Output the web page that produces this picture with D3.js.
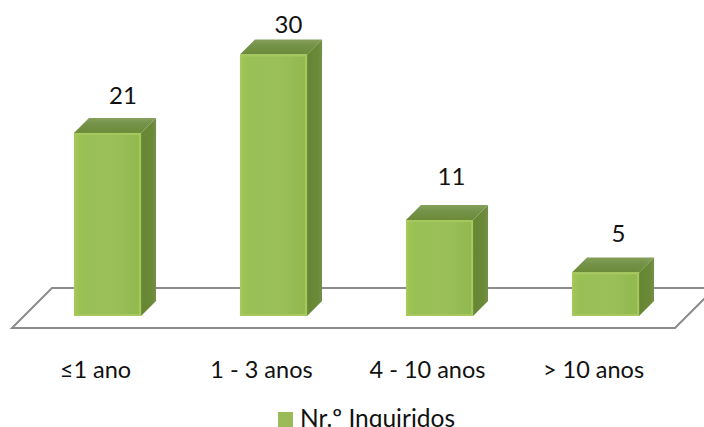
<!DOCTYPE html>
<html>
<head>
<meta charset="utf-8">
<script src="https://cdn.jsdelivr.net/npm/d3@7"></script>
<style>
  html, body { margin: 0; padding: 0; background: #fff; overflow: hidden; }
  svg { display: block; }
  text { font-family: Lato, "Open Sans", sans-serif; fill: #111; }
</style>
</head>
<body>
<svg id="chart" width="704" height="427"></svg>
<script>
const categories = ["≤1 ano", "1 - 3 anos", "4 - 10 anos", "> 10 anos"];
const respondents = [21, 30, 11, 5];
const seriesName = "Nr.º Inquiridos";

// Hand placement of the value labels relative to each bar's top
const labelShiftX = [15.5, 15, 12, 13];
const labelLift = [29, 22, 35, 30];

const svg = d3.select("#chart");
const depth = 15;

const x = d3.scaleBand().domain(categories).range([24.5, 688.5]).paddingInner(0.596).paddingOuter(0.298);
const y = d3.scaleLinear().domain([0, 30]).range([316, 54.5]);

// Shading for the bar faces
const defs = svg.append("defs");
const front = defs.append("linearGradient").attr("id", "faceFront");
[[0, "#a4c652"], [0.12, "#98c055"], [0.6, "#9abf5a"], [1, "#90b94e"]].forEach(([o, c]) =>
  front.append("stop").attr("offset", o).attr("stop-color", c));
const side = defs.append("linearGradient").attr("id", "faceSide");
[[0, "#668634"], [0.75, "#6b8a38"], [1, "#768f4c"]].forEach(([o, c]) =>
  side.append("stop").attr("offset", o).attr("stop-color", c));
const topFace = defs.append("linearGradient").attr("id", "faceTop").attr("x1", 0).attr("y1", 1).attr("x2", 0).attr("y2", 0);
[[0, "#6c8b38"], [0.6, "#75924a"], [1, "#86a05a"]].forEach(([o, c]) =>
  topFace.append("stop").attr("offset", o).attr("stop-color", c));

// Floor of the 3D plot, a parallelogram running off the right edge
const floorLine = d3.line();
const floorFront = y(0) + 12;
const floorBack = floorFront - 40;
const floorLeft = x.range()[0] - 12.5;
const floorRight = x.range()[1] - 13.5;
svg.append("path")
  .attr("d", floorLine([
    [floorLeft, floorFront], [floorLeft + 40, floorBack],
    [floorRight + 40, floorBack], [floorRight, floorFront]
  ]) + "Z")
  .attr("fill", "#fff")
  .attr("stroke", "#8c8c8c")
  .attr("stroke-width", 2);

// Bars, each built from three faces
const bars = svg.selectAll("g.bar")
  .data(categories.map((c, i) => ({ c, v: respondents[i], i })))
  .join("g").attr("class", "bar");

const bw = x.bandwidth();
bars.append("path").attr("fill", "url(#faceSide)")
  .attr("d", d => floorLine([
    [x(d.c) + bw, y(d.v)], [x(d.c) + bw + depth, y(d.v) - depth],
    [x(d.c) + bw + depth, y(0) - depth], [x(d.c) + bw, y(0)]
  ]) + "Z");
bars.append("path").attr("fill", "url(#faceTop)")
  .attr("d", d => floorLine([
    [x(d.c), y(d.v)], [x(d.c) + depth, y(d.v) - depth],
    [x(d.c) + bw + depth, y(d.v) - depth], [x(d.c) + bw, y(d.v)]
  ]) + "Z");
bars.append("rect").attr("fill", "url(#faceFront)")
  .attr("x", d => x(d.c)).attr("y", d => y(d.v))
  .attr("width", bw).attr("height", d => y(0) - y(d.v));

// Lighter bevel just inside the front face
bars.append("rect")
  .attr("fill", "none").attr("stroke", "#a6c85c").attr("stroke-width", 2)
  .attr("x", d => x(d.c) + 1).attr("y", d => y(d.v) + 1)
  .attr("width", bw - 2).attr("height", d => y(0) - y(d.v) - 2);

// Value labels above each bar
bars.append("text")
  .attr("x", d => x(d.c) + bw / 2 + labelShiftX[d.i])
  .attr("y", d => y(d.v) - labelLift[d.i])
  .attr("text-anchor", "middle")
  .attr("font-size", 24)
  .text(d => d.v);

// Category axis
const axis = svg.append("g")
  .attr("transform", "translate(-12,378)")
  .call(d3.axisBottom(x).tickSize(0).tickPadding(0));
axis.select(".domain").remove();
axis.selectAll("text").attr("font-size", 23.5).attr("dy", 0).attr("y", 0).style("font-family", null);

// Legend, cut by the lower edge of the frame
const legend = svg.append("g").attr("transform", "translate(278,412)");
legend.append("rect").attr("width", 15).attr("height", 15).attr("fill", "#9bbb59");
legend.append("text").attr("x", 22).attr("y", 14.5).attr("font-size", 24.5).text(seriesName);
</script>
</body>
</html>
